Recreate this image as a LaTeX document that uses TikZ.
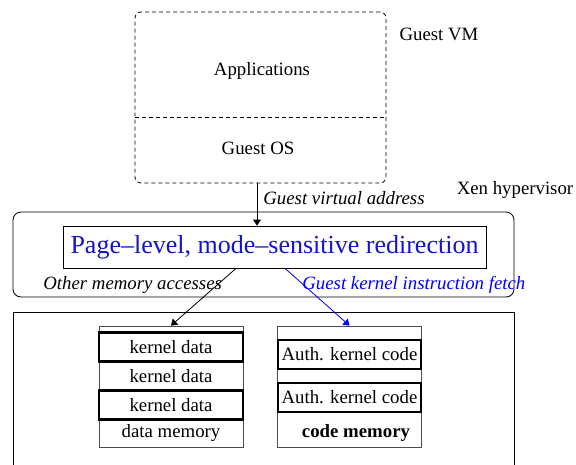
\documentclass[tikz,border=0pt]{standalone}
\usepackage{fontspec}
\setmainfont{Liberation Serif}
\usetikzlibrary{arrows.meta}

\definecolor{redirblue}{RGB}{20,20,200}
\tikzset{
  every node/.style={font=\fontsize{18.8}{22}\selectfont},
  lab/.style={font=\fontsize{18.8}{22}\selectfont\itshape, inner sep=0pt, anchor=west},
  tip/.style={-{Triangle[length=6pt,width=8pt]}},
  rowbox/.style={draw, line width=2.6pt, minimum width=144pt, minimum height=29pt, inner sep=0pt},
  column/.style={draw=black!70, line width=0.8pt, minimum width=144pt, minimum height=121pt, inner sep=0pt},
}

\begin{document}
\begin{tikzpicture}[x=1pt,y=-1pt,line width=0.8pt]
  \useasboundingbox (0,0) rectangle (576,464);
  \clip (0,0) rectangle (576,464);

  % Guest VM
  \node[draw, dash pattern=on 4pt off 3pt, rounded corners=6pt, minimum width=251pt, minimum height=171pt] (vm) at (260.5,97.5) {};
  \coordinate (div) at (0,117);
  \draw[dash pattern=on 4pt off 3pt] (vm.west |- div) -- (vm.east |- div);
  \node (apps) at (262,71) {Applications};
  \node (gos) at (258,148) {Guest OS};
  \node (vmlbl) at (439,34) {Guest VM};

  % Xen
  \node[draw, rounded corners=8pt, minimum width=501pt, minimum height=85pt] (xen) at (263.5,254.5) {};
  \node (xenlbl) at (515,190) {Xen hypervisor};
  \node[draw, minimum width=423pt, minimum height=42pt, text=redirblue, font=\fontsize{26}{30}\selectfont] (redir) at (274.5,247) {Page--level, mode--sensitive redirection};

  \coordinate (gva) at (257,183);
  \draw[tip] (gva) -- (gva |- redir.north);
  \node[lab] (gvalbl) at (263,198) {Guest virtual address};

  % Speicher
  \node[draw, minimum width=501pt, minimum height=170pt, anchor=north west] (mem) at (13,312) {};
  \node[column] (datacol) at (171,386.5) {};
  \node[column] (codecol) at (349.5,386.5) {};

  \node[rowbox] (kd1) at (171,347) {kernel data};
  \node (kd2) at (171,376.5) {kernel data};
  \node[rowbox] (kd3) at (171,405) {kernel data};
  \node (dmem) at (171,433) {data memory};

  \node[rowbox, minimum width=143pt] (ak1) at (349.5,354.5) {Auth. kernel code};
  \node[rowbox, minimum width=143pt] (ak2) at (349.5,397.5) {Auth. kernel code};
  \node[font=\fontsize{18.8}{22}\selectfont\bfseries] (cmem) at (356,433) {code memory};

  \coordinate (srcd) at (236,0);
  \coordinate (srcc) at (285,0);
  \draw[tip] (redir.south -| srcd) -- (datacol.north);
  \draw[tip, blue] (redir.south -| srcc) -- (codecol.north);
  \node[lab] (oma) at (43,285) {Other memory accesses};
  \node[lab, text=blue] (gkif) at (302,285) {Guest kernel instruction fetch};
\end{tikzpicture}
\end{document}
